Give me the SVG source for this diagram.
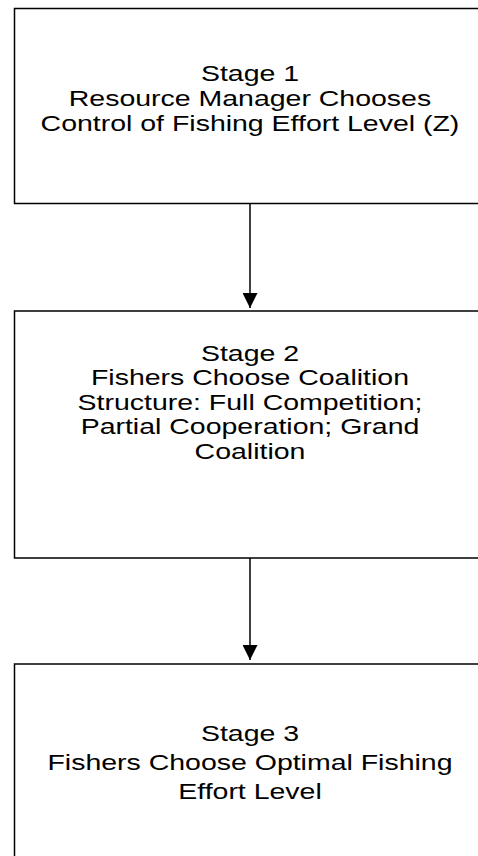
<svg xmlns="http://www.w3.org/2000/svg" width="478" height="856" viewBox="0 0 478 856">
<defs>
<marker id="ah" markerWidth="16" markerHeight="15" refX="15" refY="7.5" orient="auto" markerUnits="userSpaceOnUse">
<path d="M0,0 L15,7.5 L0,15 Z" fill="#000"/>
</marker>
<style>
.box{fill:#fff;stroke:#000;stroke-width:1.5}
.t{font-family:"Liberation Sans",Arial,sans-serif;font-size:21.5px;fill:#000;text-anchor:middle}
.c{stroke:#000;stroke-width:1.5;fill:none}
</style>
</defs>
<rect width="478" height="856" fill="#fff"/>
<g id="stage1">
<rect class="box" x="14.5" y="8.5" width="472" height="195"/>
<g transform="matrix(1.325,0,0,1,-81.25,0)">
<text class="t" x="250" y="81">Stage 1<tspan x="250" dy="25">Resource Manager Chooses</tspan><tspan x="250" dy="25">Control of Fishing Effort Level (Z)</tspan></text>
</g>
</g>
<g id="stage2">
<rect class="box" x="14.5" y="311" width="472" height="247"/>
<g transform="matrix(1.325,0,0,1,-81.25,0)">
<text class="t" x="250" y="361">Stage 2<tspan x="250" dy="24.5">Fishers Choose Coalition</tspan><tspan x="250" dy="24.5">Structure: Full Competition;</tspan><tspan x="250" dy="24.5">Partial Cooperation; Grand</tspan><tspan x="250" dy="24.5">Coalition</tspan></text>
</g>
</g>
<g id="stage3">
<rect class="box" x="14.5" y="664" width="472" height="210"/>
<g transform="matrix(1.325,0,0,1,-81.25,0)">
<text class="t" x="250" y="741">Stage 3<tspan x="250" dy="29">Fishers Choose Optimal Fishing</tspan><tspan x="250" dy="29">Effort Level</tspan></text>
</g>
</g>
<g id="connectors">
<line class="c" x1="250" y1="204" x2="250" y2="308" marker-end="url(#ah)"/>
<line class="c" x1="250" y1="558" x2="250" y2="660" marker-end="url(#ah)"/>
</g>
</svg>
